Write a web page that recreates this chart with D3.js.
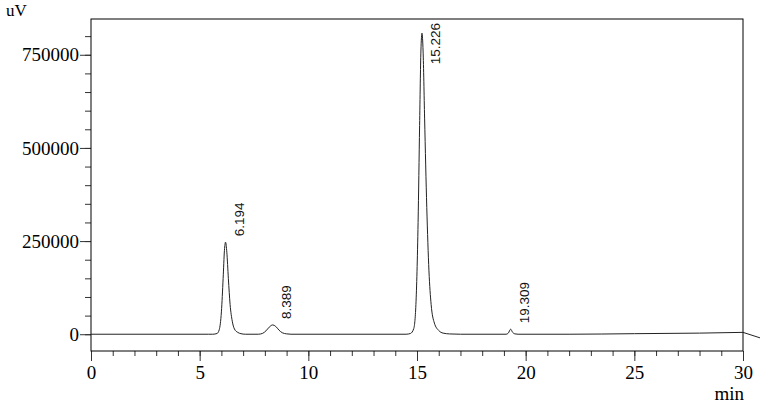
<!DOCTYPE html>
<html>
<head>
<meta charset="utf-8">
<script src="https://cdn.jsdelivr.net/npm/d3@7"></script>
<style>
  body { margin: 0; background: #fff; }
  svg { display: block; }
  .tick text { font-family: "Liberation Serif", "Times New Roman", serif; font-size: 19px; fill: #000; }
</style>
</head>
<body>
<div id="chart"></div>
<script>
// retention time (min) and signal (uV)
const times = [0, 5.4, 5.6, 5.8, 5.9, 6.0, 6.08, 6.14, 6.19, 6.25, 6.32, 6.4, 6.5, 6.6, 6.75, 6.9, 7.1,
  7.7, 7.9, 8.05, 8.2, 8.36, 8.5, 8.65, 8.8, 9.0, 9.2,
  14.5, 14.7, 14.85, 14.95, 15.05, 15.12, 15.18, 15.23, 15.28, 15.35, 15.45, 15.55, 15.65, 15.8, 16.0, 16.2, 16.5, 17,
  19.1, 19.2, 19.31, 19.4, 19.5, 19.65,
  22, 25, 28, 30];
const signal = [0, 0, 0, 2000, 12000, 60000, 150000, 225000, 247000, 220000, 150000, 80000, 35000, 14000, 5000, 1500, 0,
  0, 2500, 9000, 19000, 25000, 21000, 11000, 4000, 1000, 0,
  0, 2000, 15000, 80000, 300000, 560000, 760000, 808000, 760000, 580000, 340000, 170000, 80000, 30000, 10000, 3000, 800, 0,
  0, 3000, 13500, 5000, 1000, 0,
  0, 1500, 3000, 5000];

// trace runs on past the frame edge
const tailTimes = [30, 30.8];
const tailSignal = [5000, -10000];

// peak labels
const peakTimes = [6.194, 8.389, 15.226, 19.309];
const peakHeights = [247000, 25000, 808000, 13500];

const yMajor = [0, 250000, 500000, 750000];
const xMajor = [0, 5, 10, 15, 20, 25, 30];

const width = 760, height = 404;
const m = { left: 91, right: 743, top: 19, bottom: 351 };

const svg = d3.select("#chart").append("svg")
  .attr("width", width).attr("height", height);

const x = d3.scaleLinear().domain([0, 30]).range([m.left, m.right]);
const y = d3.scaleLinear().domain([-45000, 846000]).range([m.bottom, m.top]);

// y axis, minor then major ticks
svg.append("g").attr("transform", `translate(${m.left},0)`)
  .call(d3.axisLeft(y).tickValues(d3.range(-50000, 850001, 50000).filter(v => v >= y.domain()[0] && v <= y.domain()[1]))
    .tickSize(6).tickFormat(""))
  .call(g => g.select(".domain").remove());
svg.append("g").attr("transform", `translate(${m.left},0)`)
  .call(d3.axisLeft(y).tickValues(yMajor).tickSize(11).tickPadding(1).tickFormat(d3.format("d")))
  .call(g => g.select(".domain").remove());

// x axis
svg.append("g").attr("transform", `translate(0,${m.bottom})`)
  .call(d3.axisBottom(x).tickValues(d3.range(0, 31, 1)).tickSize(5).tickFormat(""))
  .call(g => g.select(".domain").remove());
svg.append("g").attr("transform", `translate(0,${m.bottom})`)
  .call(d3.axisBottom(x).tickValues(xMajor).tickSize(10).tickPadding(5))
  .call(g => g.select(".domain").remove());

svg.selectAll(".tick line").attr("stroke", "#333");

// frame
svg.append("rect")
  .attr("x", m.left).attr("y", m.top)
  .attr("width", m.right - m.left).attr("height", m.bottom - m.top)
  .attr("fill", "none").attr("stroke", "#000").attr("stroke-width", 1);

svg.append("text").attr("x", 6).attr("y", 16)
  .attr("font-family", "Liberation Serif, serif").attr("font-size", 17).text("uV");
svg.append("text").attr("x", 744).attr("y", 400).attr("text-anchor", "end")
  .attr("font-family", "Liberation Serif, serif").attr("font-size", 19).text("min");

// trace
const pts = times.map((t, i) => [t, signal[i]]);
const line = d3.line().x(d => x(d[0])).y(d => y(d[1])).curve(d3.curveMonotoneX);
svg.append("path").datum(pts)
  .attr("d", line)
  .attr("fill", "none").attr("stroke", "#222").attr("stroke-width", 1);

const tail = tailTimes.map((t, i) => [t, tailSignal[i]]);
svg.append("path").datum(tail)
  .attr("d", d3.line().x(d => x(d[0])).y(d => y(d[1])))
  .attr("fill", "none").attr("stroke", "#222").attr("stroke-width", 1);

// peak labels, rotated, kept inside the frame
peakTimes.forEach((t, i) => {
  const lbl = svg.append("text")
    .attr("font-family", "Liberation Sans, Arial, sans-serif").attr("font-size", 13.5)
    .attr("fill", "#111")
    .text(t.toFixed(3));
  const len = lbl.node().getComputedTextLength();
  const ly = Math.max(y(peakHeights[i]) - 6, m.top + 4 + len);
  const lx = x(t) + 18;
  lbl.attr("transform", `translate(${lx},${ly}) rotate(-90)`);
});
</script>
</body>
</html>
